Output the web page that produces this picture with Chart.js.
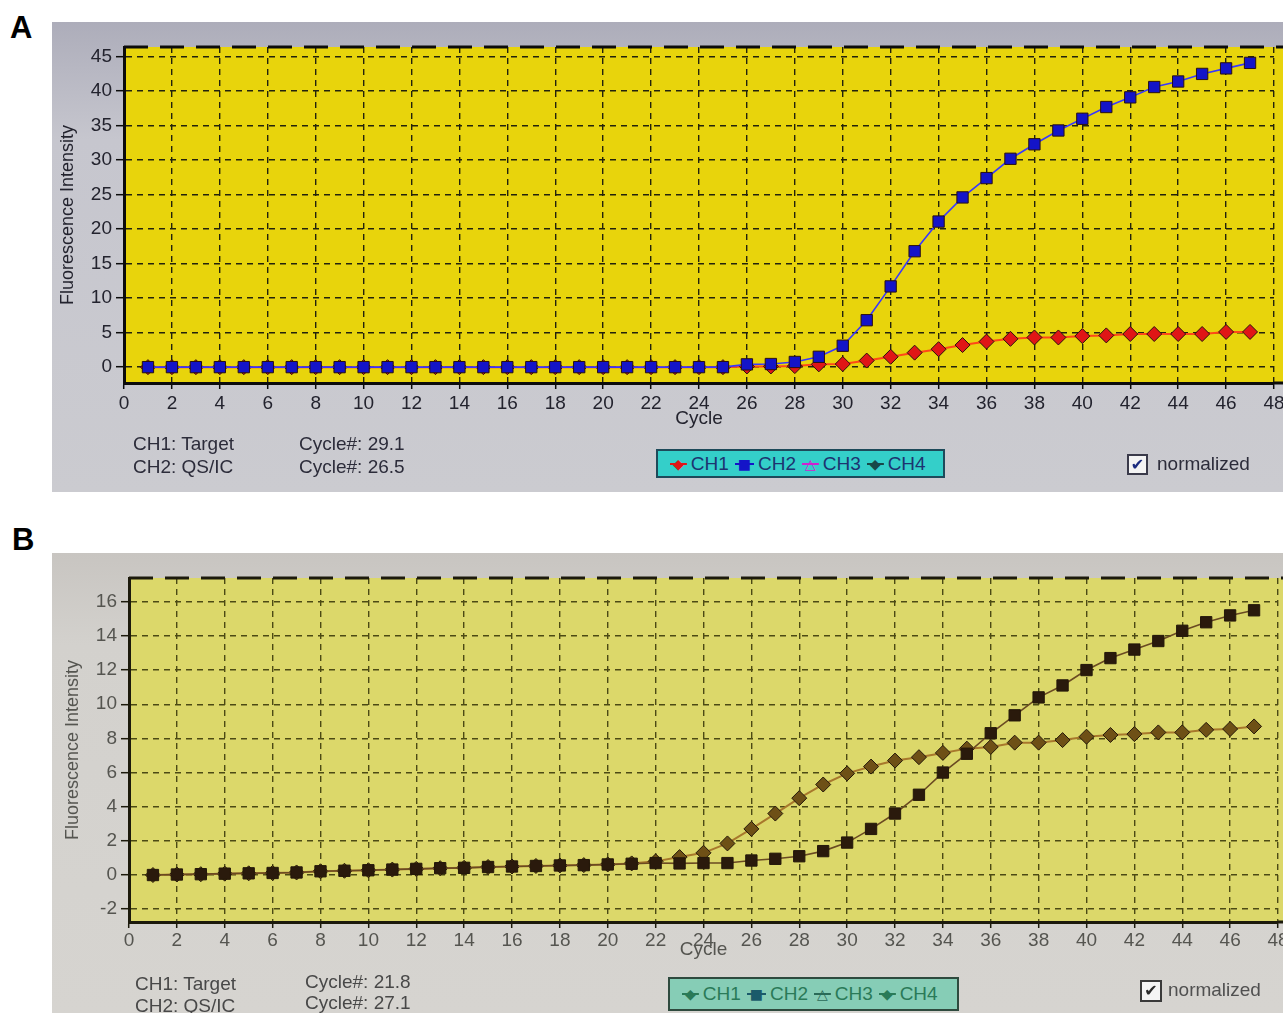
<!DOCTYPE html>
<html>
<head>
<meta charset="utf-8">
<title>Amplification curves</title>
<script src="https://cdn.jsdelivr.net/npm/chart.js@4.4.1/dist/chart.umd.min.js"></script>
<style>
  body { margin: 0; width: 1283px; height: 1013px; position: relative; overflow: hidden; background: #fff; font-family: "Liberation Sans", Arial, sans-serif; }
  .tag { position: absolute; font-size: 31px; font-weight: bold; color: #000; line-height: 1; }
  .panel { position: absolute; left: 52px; width: 1231px; overflow: hidden; }
  #panelA { top: 22px; height: 470px; background: linear-gradient(#adadba, #c6c6ce 25%, #cbcbd0); }
  #panelB { top: 553px; height: 460px; background: linear-gradient(#c8c5c1, #d3d1cd 20%, #d6d4d0); }
  .panel canvas { position: absolute; left: 0; top: 0; }
  .info { position: absolute; font-size: 19px; white-space: pre; }
  .legend { position: absolute; box-sizing: border-box; display: flex; align-items: center; padding-left: 6px; font-size: 19px; white-space: pre; }
  .legend .mk { font-family: "DejaVu Sans", sans-serif; font-size: 14px; margin: 0 4px 0 6px; padding: 0 3px;
    background: linear-gradient(currentColor, currentColor) center / 100% 2px no-repeat; }
  .chk { position: absolute; box-sizing: border-box; background: #f4f4f4; text-align: center; font-family: "DejaVu Sans", sans-serif; font-weight: bold; }
  .chkText { position: absolute; font-size: 19px; }
</style>
</head>
<body>
<div class="tag" style="left:10px;top:12px;">A</div>
<div class="tag" style="left:12px;top:524px;">B</div>

<div class="panel" id="panelA">
  <canvas id="chartA" width="1250" height="470"></canvas>
  <div class="info" style="left:81px;top:410px;line-height:23px;color:#2c2c3a;">CH1: Target
CH2: QS/IC</div>
  <div class="info" style="left:247px;top:410px;line-height:23px;color:#2c2c3a;">Cycle#: 29.1
Cycle#: 26.5</div>
  <div class="legend" id="legendA" style="left:604px;top:427px;width:289px;height:29px;background:#34cfc9;border:2px solid #1e4a5a;color:#1c3470;"></div>
  <div class="chk" style="left:1075px;top:432px;width:21px;height:21px;border:2px solid #3a3a4a;color:#1c2c80;font-size:16px;line-height:17px;">✔</div>
  <div class="chkText" style="left:1105px;top:431px;color:#2c2c3a;">normalized</div>
</div>

<div class="panel" id="panelB">
  <canvas id="chartB" width="1250" height="460"></canvas>
  <div class="info" style="left:83px;top:420px;line-height:22px;color:#484848;">CH1: Target
CH2: QS/IC</div>
  <div class="info" style="left:253px;top:418px;line-height:21px;color:#484848;">Cycle#: 21.8
Cycle#: 27.1</div>
  <div class="legend" id="legendB" style="left:616px;top:424px;width:291px;height:34px;background:#86cdb6;border:2px solid #2e4a3e;color:#2a7a58;"></div>
  <div class="chk" style="left:1088px;top:427px;width:22px;height:22px;border:2px solid #3a3a3a;color:#2a2a2a;font-size:16px;line-height:18px;">✔</div>
  <div class="chkText" style="left:1116px;top:426px;color:#505050;">normalized</div>
</div>

<script>
// cycle numbers and axis ticks
const cycles = [1, 2, 3, 4, 5, 6, 7, 8, 9, 10, 11, 12, 13, 14, 15, 16, 17, 18, 19, 20,
  21, 22, 23, 24, 25, 26, 27, 28, 29, 30, 31, 32, 33, 34, 35, 36, 37, 38, 39, 40,
  41, 42, 43, 44, 45, 46, 47];
const xTicks = [0, 2, 4, 6, 8, 10, 12, 14, 16, 18, 20, 22, 24, 26, 28, 30, 32, 34, 36, 38, 40, 42, 44, 46, 48];
const yTicksA = [0, 5, 10, 15, 20, 25, 30, 35, 40, 45];
const yTicksB = [-2, 0, 2, 4, 6, 8, 10, 12, 14, 16];
const channels = ["CH1", "CH2", "CH3", "CH4"];

// panel A (normalized fluorescence)
const ch1A = [0, 0, 0, 0, 0, 0, 0, 0, 0, 0, 0, 0, 0, 0, 0, 0, 0, 0, 0, 0,
  0, 0, 0, 0, 0, 0.1, 0.1, 0.15, 0.4, 0.45, 0.95, 1.5, 2.1, 2.6, 3.2, 3.7, 4.1, 4.3, 4.3, 4.5,
  4.6, 4.8, 4.8, 4.8, 4.8, 5.1, 5.1];
const ch2A = [0, 0, 0, 0, 0, 0, 0, 0, 0, 0, 0, 0, 0, 0, 0, 0, 0, 0, 0, 0,
  0, 0, 0, 0, 0, 0.4, 0.45, 0.75, 1.5, 3.1, 6.8, 11.7, 16.8, 21.1, 24.6, 27.4, 30.2, 32.3, 34.3, 36.0,
  37.7, 39.1, 40.6, 41.4, 42.5, 43.3, 44.1];

// panel B
const ch1B = [0, 0.03, 0.05, 0.08, 0.1, 0.12, 0.15, 0.22, 0.25, 0.28, 0.32, 0.36, 0.4, 0.42, 0.47, 0.5, 0.53, 0.56, 0.58, 0.62,
  0.68, 0.8, 1.05, 1.3, 1.85, 2.7, 3.6, 4.5, 5.3, 5.95, 6.35, 6.7, 6.9, 7.15, 7.4, 7.5, 7.75, 7.75, 7.9, 8.1,
  8.2, 8.25, 8.35, 8.35, 8.5, 8.55, 8.7];
const ch2B = [0, 0.03, 0.05, 0.08, 0.1, 0.12, 0.15, 0.22, 0.25, 0.28, 0.32, 0.36, 0.4, 0.42, 0.47, 0.5, 0.53, 0.56, 0.58, 0.62,
  0.66, 0.7, 0.68, 0.7, 0.7, 0.85, 0.95, 1.1, 1.4, 1.9, 2.7, 3.6, 4.7, 6.0, 7.1, 8.3, 9.35, 10.4, 11.1, 12.0,
  12.7, 13.2, 13.7, 14.3, 14.8, 15.2, 15.5];

Chart.defaults.font.family = "'Liberation Sans', Arial, sans-serif";

const toPoints = (vals) => cycles.map((c, i) => ({ x: c, y: vals[i] }));

// yellow plot area plus the dashed top edge
const plotFrame = {
  id: "plotFrame",
  beforeDraw(chart, args, opts) {
    const { ctx, chartArea: a } = chart;
    ctx.save();
    ctx.fillStyle = opts.fill;
    ctx.fillRect(a.left, a.top, chart.width - a.left, a.bottom - a.top);
    ctx.restore();
  },
  afterDraw(chart, args, opts) {
    const { ctx, chartArea: a } = chart;
    ctx.save();
    ctx.strokeStyle = opts.edge;
    ctx.lineWidth = 3;
    ctx.beginPath();
    ctx.moveTo(a.right, a.bottom);
    ctx.lineTo(chart.width, a.bottom);
    ctx.stroke();
    ctx.setLineDash([24, 12]);
    ctx.beginPath();
    ctx.moveTo(a.left, a.top);
    ctx.lineTo(chart.width, a.top);
    ctx.stroke();
    ctx.restore();
  }
};

function drawPanel(id, s) {
  new Chart(document.getElementById(id), {
    type: "line",
    data: {
      datasets: [
        {
          label: channels[0],
          data: toPoints(s.ch1),
          borderColor: s.line1,
          borderWidth: 2,
          pointStyle: "rectRot",
          pointRadius: 7.5,
          pointBackgroundColor: s.pt1,
          pointBorderColor: s.ptEdge,
          pointBorderWidth: 1,
          order: 1,
        },
        {
          label: channels[1],
          data: toPoints(s.ch2),
          borderColor: s.line2,
          borderWidth: 1.6,
          pointStyle: "rect",
          pointRadius: 8,
          pointBackgroundColor: s.pt2,
          pointBorderColor: s.ptEdge,
          pointBorderWidth: 1,
          order: 0,
        },
      ],
    },
    options: {
      responsive: false,
      animation: false,
      layout: { padding: { top: 25, right: s.padRight, left: 0, bottom: 0 } },
      plugins: {
        legend: { display: false },
        tooltip: { enabled: false },
        plotFrame: { fill: s.bg, edge: s.edge },
      },
      scales: {
        x: {
          type: "linear",
          min: 0,
          max: 48,
          afterBuildTicks: (sc) => { sc.ticks = xTicks.map((v) => ({ value: v })); },
          afterFit: (sc) => { sc.height = s.xHeight; },
          ticks: { autoSkip: false, maxRotation: 0, padding: s.xPad, color: s.text, font: { size: 19 } },
          grid: { color: s.grid, lineWidth: 1.4, tickLength: 6, tickColor: s.edge, tickWidth: 1.5 },
          border: { display: true, color: s.edge, width: 3, dash: [6, 5] },
          title: { display: true, text: "Cycle", color: s.text, font: { size: 19 }, padding: { top: 0, bottom: s.cycleGap } },
        },
        y: {
          type: "linear",
          min: s.yMin,
          max: s.yMax,
          afterBuildTicks: (sc) => { sc.ticks = s.yTicks.map((v) => ({ value: v })); },
          afterFit: (sc) => { sc.width = s.yWidth; },
          ticks: { padding: 4, color: s.text, font: { size: 19 } },
          grid: { color: s.grid, lineWidth: 1.4, tickLength: 8, tickColor: s.edge, tickWidth: 1.5 },
          border: { display: true, color: s.edge, width: 3, dash: [6, 5] },
          title: { display: true, text: "Fluorescence Intensity", color: s.text, font: { size: 18 }, padding: { top: s.yTitleGap, bottom: 0 } },
        },
      },
    },
    plugins: [plotFrame],
  });
}

function drawLegend(id, marks) {
  document.getElementById(id).innerHTML = channels
    .map((ch, i) => '<span class="mk" style="color:' + marks[i][1] + '">' + marks[i][0] + "</span>" + ch)
    .join("");
}

drawPanel("chartA", {
  ch1: ch1A, ch2: ch2A, yTicks: yTicksA, yMin: -2.3, yMax: 46.4,
  yWidth: 72, xHeight: 109, padRight: 28, xPad: 3, cycleGap: 62, yTitleGap: 5,
  bg: "#e8d40c", grid: "#23230c", edge: "#0c0c0c", text: "#23232e",
  line1: "#ff4818", pt1: "#e01616", line2: "#3838ff", pt2: "#1414c8", ptEdge: "#2a1010",
});
drawLegend("legendA", [["◆", "#e01616"], ["■", "#1414c8"], ["△", "#d020d0"], ["◆", "#184848"]]);

drawPanel("chartB", {
  ch1: ch1B, ch2: ch2B, yTicks: yTicksB, yMin: -2.75, yMax: 17.39,
  yWidth: 77, xHeight: 91, padRight: 24, xPad: 1, cycleGap: 52, yTitleGap: 10,
  bg: "#dcd86a", grid: "#4c4a14", edge: "#1c1a0c", text: "#555550",
  line1: "#a8782c", pt1: "#6e5016", line2: "#6a4a22", pt2: "#2a1a0c", ptEdge: "#24180a",
});
drawLegend("legendB", [["◆", "#2a7a58"], ["■", "#1a5a6a"], ["△", "#2a6a58"], ["◆", "#2a7a58"]]);
</script>
</body>
</html>
